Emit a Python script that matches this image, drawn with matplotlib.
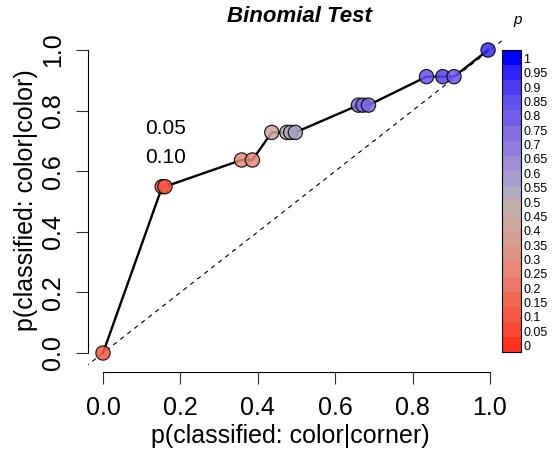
import numpy as np
import matplotlib
matplotlib.use("Agg")
from matplotlib import pyplot as plt
from matplotlib.colors import LinearSegmentedColormap

plt.rcParams['font.family'] = ['Liberation Sans', 'DejaVu Sans']

# data
x_corner = [0.0, 0.153, 0.160, 0.358, 0.386, 0.436, 0.475, 0.485, 0.497,
            0.660, 0.672, 0.686, 0.836, 0.878, 0.907, 0.995]
y_color = [0.0, 0.549, 0.549, 0.637, 0.637, 0.728, 0.728, 0.728, 0.728,
           0.818, 0.818, 0.818, 0.912, 0.912, 0.912, 1.0]
p_vals = [0.10, 0.10, 0.10, 0.28, 0.26, 0.40, 0.48, 0.52, 0.56,
          0.74, 0.74, 0.76, 0.84, 0.88, 0.82, 0.93]
annot_labels = ["0.05", "0.10"]
annot_y = [0.741, 0.645]
cbar_ticks = [round(0.05 * i, 2) for i in range(21)]
x_ticks = [0.0, 0.2, 0.4, 0.6, 0.8, 1.0]
y_ticks = [0.0, 0.2, 0.4, 0.6, 0.8, 1.0]

# key colours, bottom (p=0) to top (p=1)
key_rgb = [(255, 50, 30), (250, 75, 55), (245, 90, 70), (240, 105, 85),
           (235, 120, 105), (230, 135, 120), (222, 148, 135), (212, 158, 148),
           (202, 168, 160), (192, 176, 176), (178, 172, 192), (168, 158, 205),
           (158, 142, 214), (146, 126, 220), (132, 110, 226), (118, 95, 231),
           (102, 80, 236), (82, 62, 240), (52, 34, 246), (0, 0, 255)]

W, H = 554, 450
cmap = LinearSegmentedColormap.from_list(
    "key", [(i / (len(key_rgb) - 1), tuple(c / 255 for c in rgb))
            for i, rgb in enumerate(key_rgb)])

fig = plt.figure(figsize=(W / 100, H / 100), dpi=100)


def px_axes(l, t, r, b):
    return fig.add_axes([l / W, 1 - b / H, (r - l) / W, (b - t) / H])


ax = px_axes(88, 38, 505, 365)
ax.set_xlim(-15 / 387, 402 / 387)
ax.set_ylim(-12 / 303, 315 / 303)
ax.patch.set_alpha(0)

# diagonal reference
ax.plot([-0.1, 1.1], [-0.1, 1.1], color="black", lw=0.8, ls=(0, (4, 4)))
# curve and points
ax.plot(x_corner, y_color, color="black", lw=1.7, zorder=2)
ax.scatter(x_corner, y_color, s=105, c=[cmap(p) for p in p_vals],
           alpha=0.85, edgecolors="black", linewidths=0.9, zorder=3)

for lab, yy in zip(annot_labels, annot_y):
    ax.text(0.161, yy, lab, fontsize=15, ha="center", va="center")

for s in ["top", "right"]:
    ax.spines[s].set_visible(False)
ax.spines["left"].set_bounds(0, 1)
ax.spines["bottom"].set_bounds(0, 1)
ax.spines["bottom"].set_position(("outward", 5))
ax.set_xticks(x_ticks)
ax.set_yticks(y_ticks)
ax.set_xticklabels(["%.1f" % v for v in x_ticks])
ax.set_yticklabels(["%.1f" % v for v in y_ticks], rotation=90, va="center")
ax.tick_params(length=8.6, width=0.8, labelsize=18, color="#333333")
ax.tick_params(axis="x", pad=9)
ax.tick_params(axis="y", pad=8)

fig.text(299 / W, 1 - 17 / H, "Binomial Test", fontsize=16, weight="bold",
         style="italic", ha="center", va="center")
fig.text(290 / W, 1 - 436 / H, "p(classified: color|corner)", fontsize=18,
         ha="center", va="center")
fig.text(26 / W, 1 - 200 / H, "p(classified: color|color)", fontsize=18,
         ha="center", va="center", rotation=90)

# colour key
cax = px_axes(502, 50, 521, 352)
n_bins = len(key_rgb)
for i in range(n_bins):
    cax.axhspan(i / n_bins, (i + 1) / n_bins, color=cmap(i / (n_bins - 1)), lw=0)
cax.set_xlim(0, 1)
cax.set_ylim(0, 1)
cax.set_xticks([])
cax.set_yticks([])
for s in cax.spines.values():
    s.set_linewidth(0.8)
for i, v in enumerate(cbar_ticks):
    pix = 347 - i * 14.35
    fig.text(523 / W, 1 - pix / H, "%g" % v, fontsize=9, ha="left", va="center")
fig.text(518 / W, 1 - 20 / H, "p", fontsize=11, style="italic",
         ha="center", va="center")

fig.savefig("out.png", dpi=100)
